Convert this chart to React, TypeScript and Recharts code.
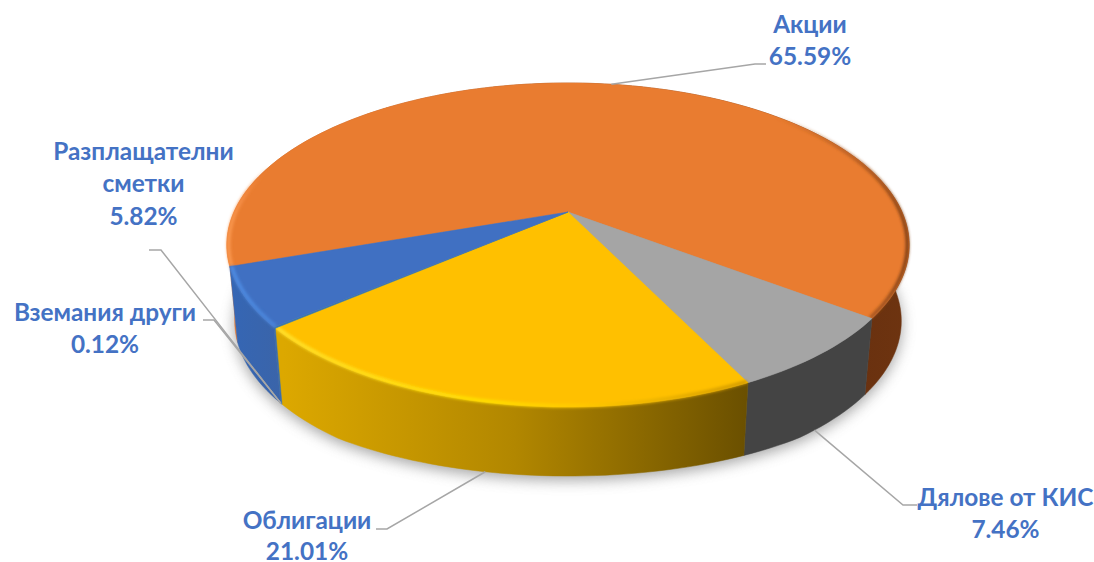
import React from "react";
import { PieChart, Pie, Cell } from "recharts";

const categories = ["Акции", "Дялове от КИС", "Облигации", "Вземания други", "Разплащателни\nсметки"];
const shares = [65.59, 7.46, 21.01, 0.12, 5.82];
const topColors = ["#E97C30", "#A5A5A5", "#FFC000", "#3D7AA8", "#4070C2"];
const rimColors = ["url(#rimOrange)", "none", "url(#rimYellow)", "none", "url(#rimBlue)"];
const wallColors = ["url(#wallOrange)", "#444444", "url(#wallYellow)", "#3A6FA8", "url(#wallBlue)"];

const data = categories.map((name, i) => ({ name, value: shares[i] }));

const TILT = 0.465;
const PERSP = 0.2037;
const WALL_H = 76;
const WALL_S = 0.977;
const RAD = Math.PI / 180;

function project(cx: number, cy: number, r: number, deg: number, inset = 1) {
  const u = Math.cos(deg * RAD) * inset;
  const v = Math.sin(deg * RAD) * inset;
  const d = 1 + PERSP * v;
  return { x: cx + (r * u) / d, y: cy - (r * TILT * v) / d };
}
const lower = (cx: number, cy: number, p: { x: number; y: number }) => {
  const taper = Math.max(0, (p.y - cy - 150) / 45) * 7;
  return { x: cx + (p.x - cx) * WALL_S, y: p.y + WALL_H - taper };
};

function arcPoints(cx: number, cy: number, r: number, a: number, b: number, inset = 1) {
  const n = Math.max(2, Math.ceil(Math.abs(b - a) / 1.5));
  const out = [];
  for (let i = 0; i <= n; i++) out.push(project(cx, cy, r, a + ((b - a) * i) / n, inset));
  return out;
}
const toPath = (pts: { x: number; y: number }[], close = true) =>
  pts.map((p, i) => `${i ? "L" : "M"}${p.x.toFixed(2)} ${p.y.toFixed(2)}`).join(" ") + (close ? " Z" : "");

function Slice(props: any) {
  const { cx, cy, outerRadius: r, startAngle, endAngle, index } = props;
  const rim = arcPoints(cx, cy, r, startAngle, endAngle);
  const wall = [...rim, ...rim.slice().reverse().map((p) => lower(cx, cy, p))];
  const top = [{ x: cx, y: cy }, ...rim];
  const bevel = arcPoints(cx, cy, r, startAngle, endAngle, 0.995);
  const fill = wallColors[index];
  return (
    <g>
      <path d={toPath(wall)} fill={fill} stroke={fill} strokeWidth={0.5} />
      <path d={toPath(top)} fill={topColors[index]} stroke={topColors[index]} strokeWidth={0.5} />
      {rimColors[index] !== "none" && (
        <path d={toPath(bevel, false)} fill="none" stroke={rimColors[index]} strokeWidth={3.5} filter="url(#soft)" />
      )}
    </g>
  );
}

function ShadowSlice(props: any) {
  const { cx, cy, outerRadius: r, startAngle, endAngle } = props;
  const rim = arcPoints(cx, cy, r, startAngle, endAngle).map((p) => lower(cx, cy, p));
  const pts = [{ x: cx, y: cy + WALL_H }, ...rim].map((p) => ({ x: p.x, y: p.y + 4 }));
  return <path d={toPath(pts)} fill="#8a8a8a" stroke="#8a8a8a" />;
}

const labelLayout = [
  { x: 810, y: [33, 65], tail: [[766, 64], [755, 64]], anchor: "mid", wall: false },
  { x: 1005.5, y: [506, 538], tail: [[917, 505], [903, 505]], anchor: "mid", wall: true },
  { x: 307, y: [529, 560], tail: [[376, 529], [387, 529]], anchor: "mid", wall: true },
  { x: 105, y: [321, 353], tail: [[203, 320], [214, 320]], anchor: "mid", wall: true },
  { x: 143.5, y: [160, 192, 225], tail: [[149, 250], [161, 250]], anchor: "start", wall: true },
];

function Label(props: any) {
  const { cx, cy, outerRadius: r, startAngle, endAngle, midAngle, index, name, value } = props;
  const l = labelLayout[index];
  const deg = l.anchor === "start" ? startAngle : midAngle ?? (startAngle + endAngle) / 2;
  const rimPoint = project(cx, cy, r, deg);
  const p = l.wall ? lower(cx, cy, rimPoint) : rimPoint;
  const lines = [...String(name).split("\n"), `${Number(value).toFixed(2)}%`];
  return (
    <g>
      <polyline
        points={[...l.tail.map((t) => t.join(",")), `${p.x},${p.y}`].join(" ")}
        fill="none"
        stroke="#A6A6A6"
        strokeWidth={1.5}
      />
      {lines.map((t, i) => (
        <text
          key={i}
          x={l.x}
          y={l.y[i]}
          textAnchor="middle"
          fontFamily="Lato, 'Open Sans', sans-serif"
          fontWeight={700}
          fontSize={24.4}
          fill="#4472C4"
        >
          {t}
        </text>
      ))}
    </g>
  );
}

export default function App() {
  return (
    <div style={{ position: "absolute", left: 0, top: 0, width: 1094, height: 562, background: "#fff" }}>
      <style>{`.pie-shadow { filter: blur(7px); opacity: .75; }`}</style>
      <PieChart width={1094} height={562} margin={{ top: 0, right: 0, bottom: 0, left: 0 }}>
        <defs>
          <filter id="soft" filterUnits="userSpaceOnUse" x="0" y="0" width="1094" height="562">
            <feGaussianBlur stdDeviation="1.6" />
          </filter>
          <linearGradient id="wallYellow" gradientUnits="userSpaceOnUse" x1="283" y1="0" x2="745" y2="0">
            <stop offset="0" stopColor="#DCA800" />
            <stop offset="0.5" stopColor="#B28700" />
            <stop offset="1" stopColor="#6B5000" />
          </linearGradient>
          <linearGradient id="wallOrange" gradientUnits="userSpaceOnUse" x1="228" y1="0" x2="910" y2="0">
            <stop offset="0" stopColor="#E67A30" />
            <stop offset="0.05" stopColor="#C8662A" />
            <stop offset="0.9" stopColor="#68300F" />
            <stop offset="1" stopColor="#6E3410" />
          </linearGradient>
          <linearGradient id="wallBlue" gradientUnits="userSpaceOnUse" x1="232" y1="0" x2="285" y2="0">
            <stop offset="0" stopColor="#3566B4" />
            <stop offset="1" stopColor="#3B64A8" />
          </linearGradient>
          <linearGradient id="rimOrange" gradientUnits="userSpaceOnUse" x1="228" y1="0" x2="910" y2="0">
            <stop offset="0" stopColor="#FB9A52" />
            <stop offset="0.025" stopColor="#F38A42" />
            <stop offset="0.06" stopColor="#E97C30" stopOpacity="0" />
            <stop offset="0.8" stopColor="#A9561C" stopOpacity="0" />
            <stop offset="0.92" stopColor="#A9561C" stopOpacity="0.8" />
            <stop offset="1" stopColor="#7A3C12" />
          </linearGradient>
          <linearGradient id="rimBlue" gradientUnits="userSpaceOnUse" x1="232" y1="0" x2="285" y2="0">
            <stop offset="0" stopColor="#4F8DE4" />
            <stop offset="1" stopColor="#4A84D8" />
          </linearGradient>
          <linearGradient id="rimYellow" gradientUnits="userSpaceOnUse" x1="280" y1="0" x2="745" y2="0">
            <stop offset="0" stopColor="#FFE22E" />
            <stop offset="0.45" stopColor="#FFE000" />
            <stop offset="0.65" stopColor="#FFC800" />
            <stop offset="1" stopColor="#D09800" />
          </linearGradient>
        </defs>
        <Pie
          data={data}
          dataKey="value"
          nameKey="name"
          cx={568}
          cy={212}
          outerRadius={334}
          startAngle={199.1}
          endAngle={-160.9}
          className="pie-shadow"
          isAnimationActive={false}
          stroke="none"
          shape={ShadowSlice}
          inactiveShape={ShadowSlice}
          activeShape={ShadowSlice}
          label={false}
          labelLine={false}
        />
        <Pie
          data={data}
          dataKey="value"
          nameKey="name"
          cx={568}
          cy={212}
          outerRadius={334}
          startAngle={199.1}
          endAngle={-160.9}
          isAnimationActive={false}
          stroke="none"
          shape={Slice}
          inactiveShape={Slice}
          activeShape={Slice}
          label={Label}
          labelLine={false}
        >
          {data.map((d, i) => (
            <Cell key={d.name} fill={topColors[i]} />
          ))}
        </Pie>
      </PieChart>
    </div>
  );
}
